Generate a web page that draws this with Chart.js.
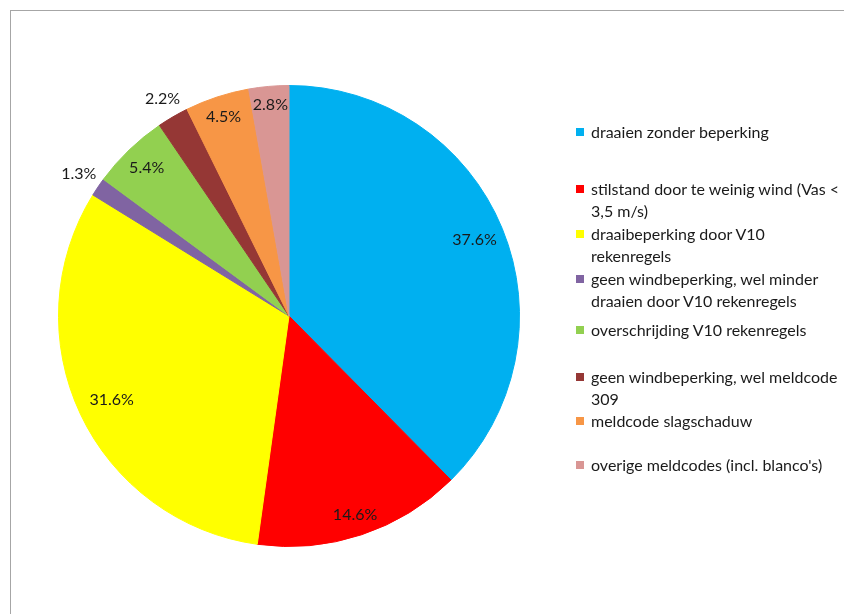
<!DOCTYPE html>
<html>
<head>
<meta charset="utf-8">
<script src="https://cdn.jsdelivr.net/npm/chart.js@4/dist/chart.umd.min.js"></script>
<style>
  html, body { margin: 0; padding: 0; background: #fff; }
  #wrap { position: relative; width: 844px; height: 614px; overflow: hidden; }
  #frame { position: absolute; left: 10px; top: 10px; width: 860px; height: 640px;
           border-left: 1px solid #a6a6a6; border-top: 1px solid #a6a6a6; }
  #pie { position: absolute; left: 0; top: 0; }
  .item { position: absolute; left: 576px; font: 16px Lato, sans-serif; color: #1a1a1a;
          line-height: 22px; white-space: nowrap; }
  .item i { position: absolute; left: 0; top: 7px; width: 8px; height: 8px; }
  .item span { display: block; margin-left: 15px; }
</style>
</head>
<body>
<div id="wrap">
  <div id="frame"></div>
  <canvas id="pie" width="844" height="614"></canvas>
  <div id="legend"></div>
</div>
<script>
// categories (one array entry per legend line)
const categories = [
  ['draaien zonder beperking'],
  ['stilstand door te weinig wind (Vas <', '3,5 m/s)'],
  ['draaibeperking door V10', 'rekenregels'],
  ['geen windbeperking, wel minder', 'draaien door V10 rekenregels'],
  ['overschrijding V10 rekenregels'],
  ['geen windbeperking, wel meldcode', '309'],
  ['meldcode slagschaduw'],
  ["overige meldcodes (incl. blanco's)"]
];
// share in percent
const shares = [37.6, 14.6, 31.6, 1.3, 5.4, 2.2, 4.5, 2.8];

const colors = ['#00b0f0', '#ff0000', '#ffff00', '#8064a2', '#92d050', '#953735', '#f79646', '#d99694'];
// how far out each label sits, as a fraction of the radius
const labelRadius = [0.87, 0.91, 0.85, 1.10, 0.89, 1.09, 0.91, 0.92];
// top of each legend entry in px
const legendTops = [121, 178, 223, 268, 319, 366, 410, 454];

const pctLabels = {
  id: 'pctLabels',
  afterDatasetsDraw(chart) {
    const ctx = chart.ctx;
    const meta = chart.getDatasetMeta(0);
    ctx.save();
    ctx.font = '16px Lato, sans-serif';
    ctx.fillStyle = '#1a1a1a';
    ctx.textAlign = 'center';
    ctx.textBaseline = 'middle';
    meta.data.forEach((arc, i) => {
      const p = arc.getProps(['x', 'y', 'startAngle', 'endAngle', 'outerRadius'], true);
      const mid = (p.startAngle + p.endAngle) / 2;
      const r = p.outerRadius * labelRadius[i];
      ctx.fillText(shares[i].toFixed(1) + '%', p.x + Math.cos(mid) * r, p.y + Math.sin(mid) * r);
    });
    ctx.restore();
  }
};

new Chart(document.getElementById('pie').getContext('2d'), {
  type: 'pie',
  data: {
    labels: categories,
    datasets: [{
      data: shares,
      backgroundColor: colors,
      borderColor: colors,   // same colour as the fill, hides the seams
      borderWidth: 1
    }]
  },
  options: {
    responsive: false,
    animation: false,
    layout: { padding: { left: 58, right: 324, top: 85, bottom: 67 } },
    plugins: {
      legend: { display: false },
      tooltip: { enabled: false }
    }
  },
  plugins: [pctLabels]
});

// legend on the right
const legend = document.getElementById('legend');
categories.forEach((lines, i) => {
  const div = document.createElement('div');
  div.className = 'item';
  div.style.top = legendTops[i] + 'px';
  const box = document.createElement('i');
  box.style.background = colors[i];
  div.appendChild(box);
  lines.forEach(t => {
    const s = document.createElement('span');
    s.textContent = t;
    div.appendChild(s);
  });
  legend.appendChild(div);
});
</script>
</body>
</html>
